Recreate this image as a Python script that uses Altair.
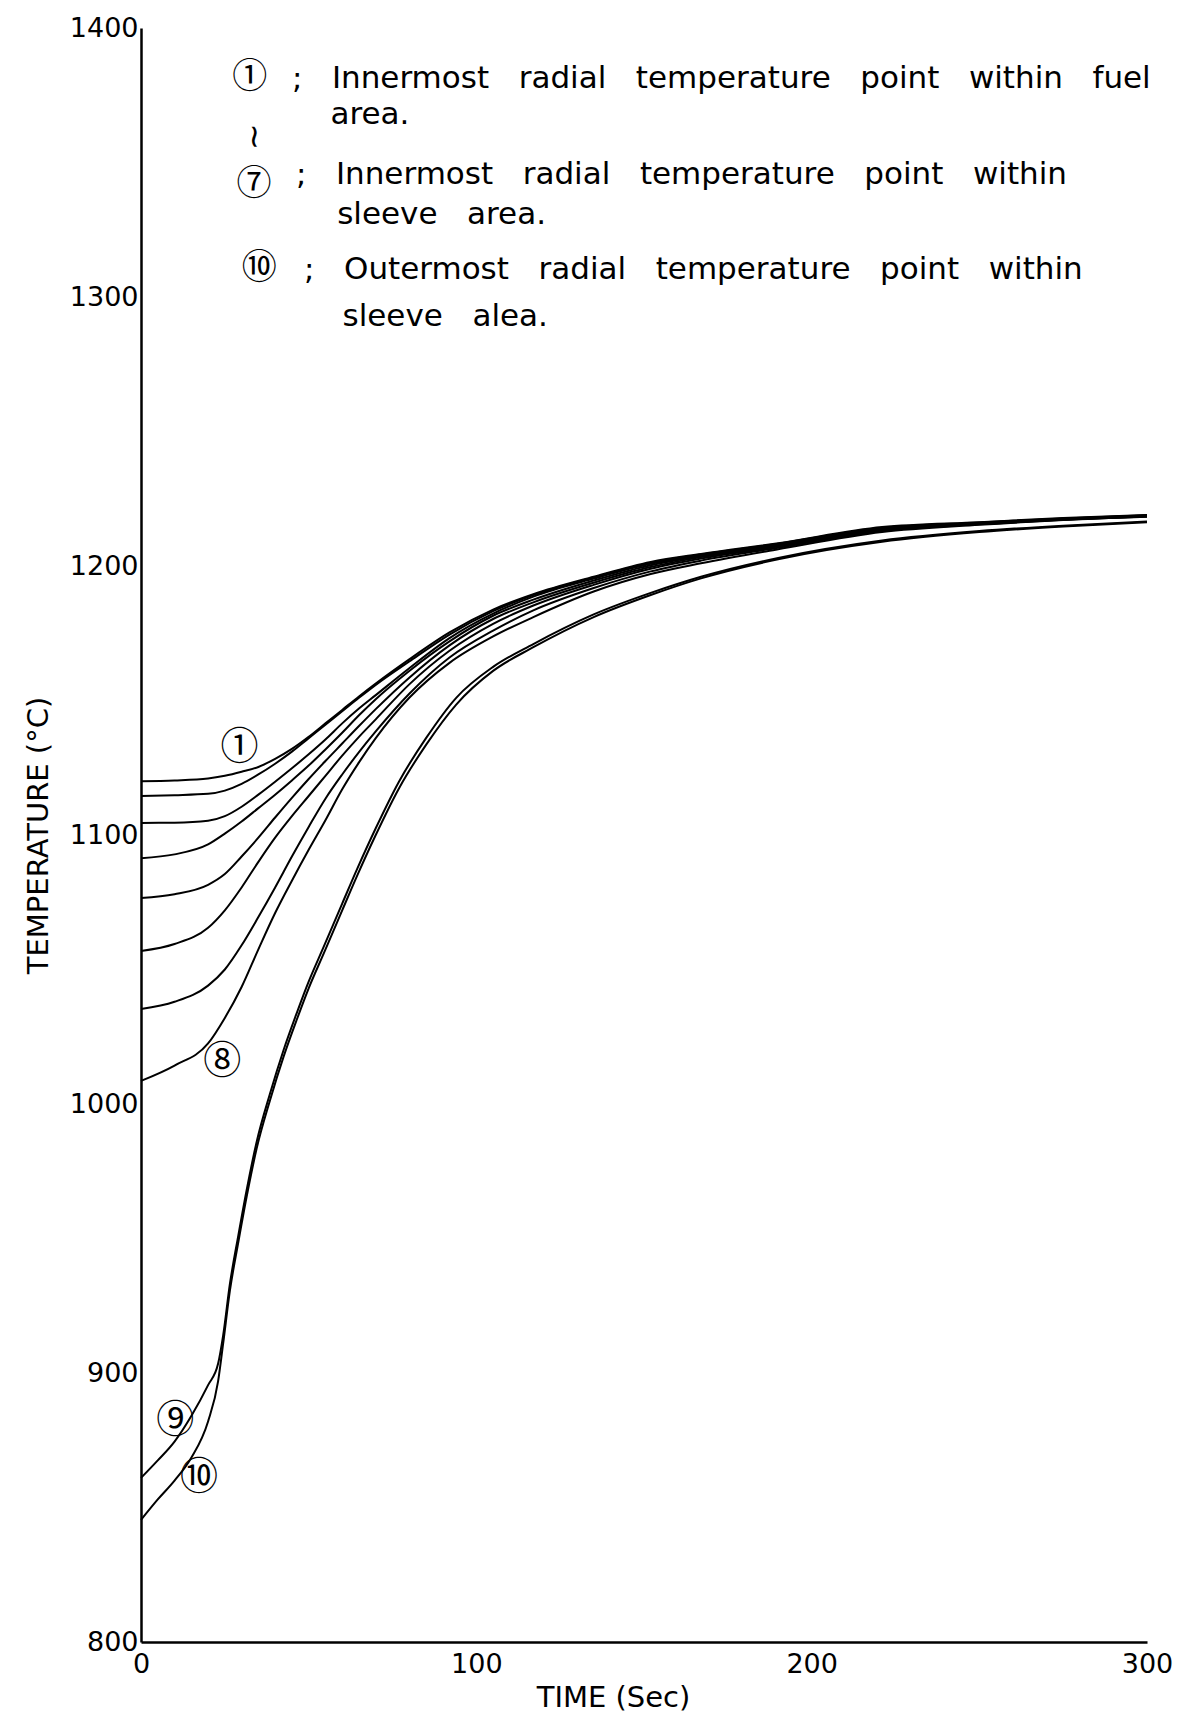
import altair as alt
import pandas as pd

# ---------------- data ----------------
t_fuel = [0, 10, 20, 25, 30, 35, 40, 45, 50, 55, 60, 65, 70, 80, 92, 105, 117, 135, 152, 167, 190, 221, 250, 275, 300]
c1 = [1120, 1120.3, 1121, 1122, 1123.5, 1125.3, 1128.3, 1132, 1136.5, 1141.5, 1146.5, 1151.5, 1156.3, 1165.3, 1175.3, 1183.8, 1189.5, 1196, 1201.5, 1204.5, 1208.5, 1214.5, 1216.3, 1217.8, 1219]
c2 = [1114.5, 1114.8, 1115.3, 1116.5, 1119, 1122.5, 1126.5, 1131, 1136, 1141, 1146, 1151, 1155.8, 1164.5, 1174.5, 1183.2, 1189.2, 1195.7, 1201.2, 1204.3, 1208.3, 1214.2, 1216.2, 1217.7, 1218.9]
c3 = [1104.5, 1104.6, 1105.3, 1107, 1110.5, 1115, 1119.8, 1124.8, 1130, 1135.5, 1141.5, 1147, 1152, 1162, 1173.2, 1182.3, 1188.6, 1195.3, 1200.8, 1204, 1208, 1214, 1216, 1217.6, 1218.8]
c4 = [1091.4, 1092.8, 1096.5, 1100.5, 1105, 1110, 1115, 1120.3, 1125.8, 1131.8, 1138, 1144.5, 1150.5, 1161, 1172, 1181.5, 1187.5, 1194.6, 1200.3, 1203.7, 1207.8, 1213.8, 1215.9, 1217.5, 1218.7]
c5 = [1076.6, 1078, 1081.5, 1085.5, 1092, 1099, 1106.5, 1113.8, 1120.8, 1127.5, 1134, 1140.5, 1146.8, 1158.5, 1170.5, 1180.3, 1186.5, 1193.8, 1199.6, 1203.3, 1207.5, 1213.6, 1215.8, 1217.4, 1218.6]
c6 = [1056.9, 1059.5, 1065.5, 1072, 1080.5, 1090, 1099, 1107, 1114.5, 1122, 1129.5, 1136.5, 1143, 1156, 1168.5, 1178.5, 1185.3, 1193, 1199, 1202.8, 1207.2, 1213.3, 1215.6, 1217.3, 1218.5]
c7 = [1035.3, 1038, 1044, 1050, 1059, 1069.5, 1080.5, 1092, 1103, 1113.5, 1122.5, 1130.8, 1138.5, 1152.5, 1166, 1176, 1183.5, 1191.8, 1198, 1202, 1206.8, 1213, 1215.5, 1217.2, 1218.4]
c8 = [1008.6, 1014.3, 1022.5, 1032, 1043.5, 1057.5, 1071, 1083, 1094.5, 1105.5, 1117, 1127, 1136, 1151, 1164, 1173.8, 1181, 1190.5, 1197, 1201, 1206.2, 1212.6, 1215.3, 1217.1, 1218.3]

t_sleeve = [0, 5, 10, 15, 20, 23, 24.5, 26.5, 29, 31.5, 34.5, 38.5, 42.5, 46.5, 50, 54.5, 60, 64.5, 70, 77, 85, 94, 105, 117, 135, 152, 167, 190, 221, 250, 275, 300]
c9 = [861, 867.5, 874.5, 884, 895.5, 903.5, 914, 933, 951, 968, 986, 1004, 1020, 1034, 1045.5, 1058.5, 1074.5, 1087.5, 1102.5, 1120, 1136, 1151, 1162.5, 1171, 1182, 1190, 1196, 1203, 1209.5, 1213, 1215, 1216.5]
c10 = [845.4, 853, 860, 868.5, 882, 897, 911, 930.5, 948.5, 965.5, 983.5, 1001.5, 1017.5, 1031.5, 1043, 1056, 1072, 1085, 1100, 1117.5, 1133.5, 1148.5, 1161, 1169.8, 1181, 1189.2, 1195.4, 1202.5, 1209, 1212.6, 1214.7, 1216.3]

x_ticks = [0, 100, 200, 300]
y_ticks = [800, 900, 1000, 1100, 1200, 1300, 1400]

curve_labels = ["①", "⑧", "⑨", "⑩"]
curve_label_t = [29.4, 24.2, 10.2, 17.3]
curve_label_T = [1132.5, 1015.6, 882.3, 861.0]

NB = "\u00a0\u00a0\u00a0"
legend_lines = [
    ";" + NB + "Innermost" + NB + "radial" + NB + "temperature" + NB + "point" + NB + "within" + NB + "fuel",
    "area.",
    ";" + NB + "Innermost" + NB + "radial" + NB + "temperature" + NB + "point" + NB + "within",
    "sleeve" + NB + "area.",
    ";" + NB + "Outermost" + NB + "radial" + NB + "temperature" + NB + "point" + NB + "within",
    "sleeve" + NB + "alea.",
]
legend_t = [45.0, 56.5, 46.2, 58.5, 48.6, 60.1]
legend_T = [1381.1, 1367.7, 1345.4, 1330.3, 1310.0, 1292.4]

legend_marks = ["①", "⑦", "⑩"]
legend_mark_t = [32.4, 33.7, 35.3]
legend_mark_T = [1381.9, 1342.0, 1310.8]

# ---------------- tables ----------------
rows = []
for name, ys in [("1", c1), ("2", c2), ("3", c3), ("4", c4), ("5", c5), ("6", c6), ("7", c7), ("8", c8)]:
    for t, v in zip(t_fuel, ys):
        rows.append({"curve": name, "t": t, "T": v})
for name, ys in [("9", c9), ("10", c10)]:
    for t, v in zip(t_sleeve, ys):
        rows.append({"curve": name, "t": t, "T": v})
df = pd.DataFrame(rows)

df_clab = pd.DataFrame({"t": curve_label_t, "T": curve_label_T, "txt": curve_labels})
df_leg = pd.DataFrame({"t": legend_t, "T": legend_T, "txt": legend_lines})
df_legm = pd.DataFrame({"t": legend_mark_t, "T": legend_mark_T, "txt": legend_marks})
df_sq = pd.DataFrame({"t": [33.7], "T": [1359.6], "txt": ["~"]})

xs = alt.Scale(domain=[0, 300], nice=False, zero=False)
ys_ = alt.Scale(domain=[800, 1400], nice=False, zero=False)

x_enc = alt.X("t:Q", scale=xs, axis=alt.Axis(values=x_ticks, format="d", title="TIME  (Sec)", labelPadding=9,
                                              titlePadding=6, titleX=472, labelFlush=False))
y_enc = alt.Y("T:Q", scale=ys_, axis=alt.Axis(values=y_ticks, format="d", title="TEMPERATURE  (°C)", labelPadding=3,
                                               titlePadding=16, labelFlush=False))

lines = alt.Chart(df).mark_line(color="black", strokeWidth=2, interpolate="monotone").encode(
    x=x_enc, y=y_enc, detail="curve:N", order="t:Q"
)

clab = alt.Chart(df_clab).mark_text(font="Noto Sans CJK JP", fontSize=38, color="black",
                                    align="center", baseline="middle").encode(
    x=alt.X("t:Q", scale=xs), y=alt.Y("T:Q", scale=ys_), text="txt:N")

leg = alt.Chart(df_leg).mark_text(font="DejaVu Sans", fontSize=31, color="black",
                                  align="left", baseline="middle").encode(
    x=alt.X("t:Q", scale=xs), y=alt.Y("T:Q", scale=ys_), text="txt:N")

legm = alt.Chart(df_legm).mark_text(font="Noto Sans CJK JP", fontSize=35, color="black",
                                    align="center", baseline="middle").encode(
    x=alt.X("t:Q", scale=xs), y=alt.Y("T:Q", scale=ys_), text="txt:N")

sq = alt.Chart(df_sq).mark_text(font="DejaVu Sans", fontSize=32, color="black", angle=90,
                                align="center", baseline="middle").encode(
    x=alt.X("t:Q", scale=xs), y=alt.Y("T:Q", scale=ys_), text="txt:N")

chart = alt.layer(lines, clab, leg, legm, sq).properties(
    width=1006, height=1614,
    padding={"left": 141, "top": 28, "right": 36, "bottom": 74},
    autosize=alt.AutoSizeParams(type="none"),
    background="white",
).configure_view(stroke=None).configure_axis(
    grid=False, ticks=False, domainColor="black", domainWidth=2.5,
    labelColor="black", labelFont="DejaVu Sans", labelFontSize=27,
    titleColor="black", titleFont="DejaVu Sans", titleFontSize=29, titleFontWeight="normal",
)

chart.save("out.html", embed_options={"renderer": "svg", "actions": False})
